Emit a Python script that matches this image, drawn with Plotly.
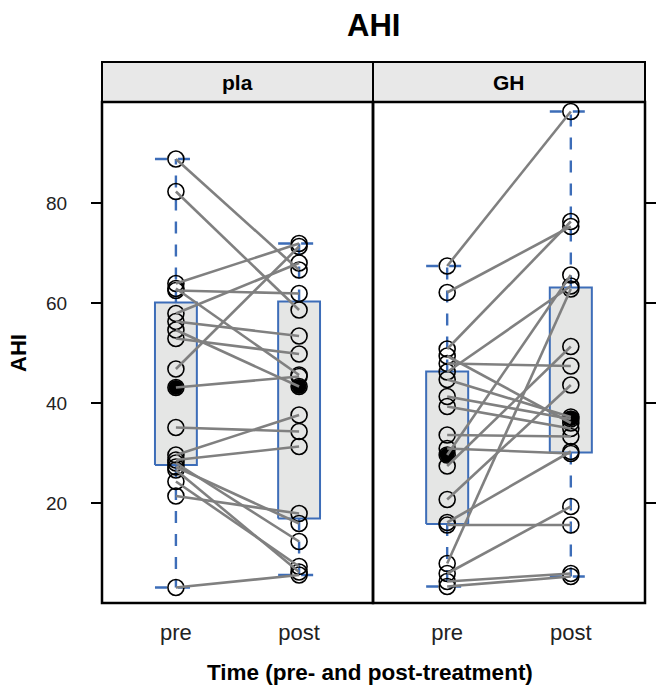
import plotly.graph_objects as go

# ---------------- data ----------------
panels = ["pla", "GH"]
time_labels = ["pre", "post"]

pla_pre = [88.8, 82.3, 63.9, 62.9, 62.5, 57.9, 56.3, 54.6, 52.9, 46.8,
           43.1, 35.1, 29.6, 28.6, 28.0, 27.2, 26.6, 24.3, 21.4, 3.1]
pla_post = [66.6, 58.6, 71.9, 45.6, 61.9, 68.0, 53.4, 43.3, 49.8, 71.3,
            45.3, 34.3, 37.6, 31.3, 12.3, 15.9, 6.2, 7.3, 17.9, 5.6]

gh_pre = [67.4, 62.1, 50.8, 49.4, 47.9, 46.2, 44.7, 41.3, 39.3, 33.6,
          30.9, 29.6, 27.4, 20.7, 16.1, 15.6, 7.9, 5.9, 4.3, 3.3]
gh_post = [98.3, 75.3, 76.3, 36.0, 47.4, 63.4, 37.2, 36.8, 34.9, 33.3,
           29.9, 65.6, 51.3, 43.6, 30.3, 15.6, 62.8, 19.3, 5.9, 5.3]

# box statistics: lower whisker, Q1, median, Q3, upper whisker
pla_pre_box = [3.1, 27.6, 43.1, 60.1, 88.8]
pla_post_box = [5.6, 16.9, 43.3, 60.3, 71.9]
gh_pre_box = [3.3, 15.8, 29.6, 46.3, 67.4]
gh_post_box = [5.3, 30.1, 36.9, 63.1, 98.3]

y_ticks = [20, 40, 60, 80]

# ---------------- styling ----------------
W, H = 657, 690
FONT = "Liberation Sans, Arial, sans-serif"
BLUE = "#3D6DB8"
BOXFILL = "#E5E6E5"
LINEGREY = "#808080"
STRIP = "#E8E8E8"

def px_x(p):
    return p / W

def px_y(p):
    return 1 - p / H

left_dom = [px_x(102), px_x(373)]
right_dom = [px_x(373), px_x(645)]
y_dom = [px_y(603), px_y(102)]

fig = go.Figure()

box_w = 0.17

def add_panel(xa, ya, pre, post, pre_box, post_box):
    for xpos, b in ((1, pre_box), (2, post_box)):
        lo, q1, med, q3, hi = b
        fig.add_trace(go.Scatter(
            x=[xpos - box_w, xpos + box_w, xpos + box_w, xpos - box_w, xpos - box_w],
            y=[q1, q1, q3, q3, q1], mode="lines", fill="toself",
            fillcolor=BOXFILL, line=dict(color=BLUE, width=2),
            xaxis=xa, yaxis=ya, hoverinfo="skip", showlegend=False))
        fig.add_trace(go.Scatter(
            x=[xpos, xpos, None, xpos, xpos, None,
               xpos - box_w, xpos + box_w, None, xpos - box_w, xpos + box_w],
            y=[q3, hi, None, q1, lo, None, hi, hi, None, lo, lo],
            mode="lines", line=dict(color=BLUE, width=2.4, dash="12px,11px"),
            xaxis=xa, yaxis=ya, hoverinfo="skip", showlegend=False))
        fig.add_trace(go.Scatter(
            x=[xpos], y=[med], mode="markers",
            marker=dict(color="black", size=15, symbol="circle"),
            xaxis=xa, yaxis=ya, hoverinfo="skip", showlegend=False))
    fig.add_trace(go.Scatter(
        x=[1] * len(pre) + [2] * len(post), y=list(pre) + list(post),
        mode="markers",
        marker=dict(symbol="circle-open", size=16, color="black",
                    line=dict(width=1.6, color="black")),
        xaxis=xa, yaxis=ya, hoverinfo="skip", showlegend=False))
    lx, ly = [], []
    for a, b in zip(pre, post):
        lx += [1, 2, None]
        ly += [a, b, None]
    fig.add_trace(go.Scatter(
        x=lx, y=ly, mode="lines", line=dict(color=LINEGREY, width=2.6),
        xaxis=xa, yaxis=ya, hoverinfo="skip", showlegend=False))

add_panel("x", "y", pla_pre, pla_post, pla_pre_box, pla_post_box)
add_panel("x2", "y2", gh_pre, gh_post, gh_pre_box, gh_post_box)

xcommon = dict(range=[0.4, 2.6], tickvals=[1, 2], ticktext=time_labels,
               showgrid=False, zeroline=False, showline=False,
               ticks="outside", ticklen=10, tickcolor="rgba(0,0,0,0)",
               tickfont=dict(family=FONT, size=22, color="#222"), fixedrange=True)
ycommon = dict(range=[0, 100.2], tickvals=y_ticks, showgrid=False,
               zeroline=False, showline=False, ticks="outside", ticklen=10,
               tickwidth=2, tickcolor="black",
               tickfont=dict(family=FONT, size=19, color="#222"))

fig.update_layout(
    width=W, height=H, margin=dict(l=0, r=0, t=0, b=0),
    paper_bgcolor="white", plot_bgcolor="white", showlegend=False,
    xaxis=dict(domain=left_dom, anchor="y", **xcommon),
    xaxis2=dict(domain=right_dom, anchor="y2", **xcommon),
    yaxis=dict(domain=y_dom, anchor="x", side="left", ticklabelstandoff=20,
               **ycommon),
    yaxis2=dict(domain=y_dom, anchor="x2", side="right", matches="y",
                showticklabels=False, **ycommon),
)

for x0, x1, lab in ((102, 373, panels[0]), (373, 645, panels[1])):
    fig.add_shape(type="rect", xref="paper", yref="paper",
                  x0=px_x(x0), x1=px_x(x1), y0=px_y(102), y1=px_y(62),
                  fillcolor=STRIP, line=dict(color="black", width=2), layer="below")
    fig.add_shape(type="rect", xref="paper", yref="paper",
                  x0=px_x(x0), x1=px_x(x1), y0=px_y(603), y1=px_y(102),
                  line=dict(color="black", width=2.5), layer="above")
    fig.add_annotation(x=px_x((x0 + x1) / 2), y=px_y(82), xref="paper", yref="paper",
                       xanchor="center", yanchor="middle",
                       text="<b>%s</b>" % lab, showarrow=False,
                       font=dict(family=FONT, size=21, color="black"))

fig.add_annotation(x=px_x(373.5), y=px_y(26), xref="paper", yref="paper",
                   xanchor="center", yanchor="middle",
                   text="<b>AHI</b>", showarrow=False,
                   font=dict(family=FONT, size=31, color="black"))
fig.add_annotation(x=px_x(370), y=px_y(672), xref="paper", yref="paper",
                   xanchor="center", yanchor="middle",
                   text="<b>Time (pre- and post-treatment)</b>", showarrow=False,
                   font=dict(family=FONT, size=22.5, color="black"))
fig.add_annotation(x=px_x(18), y=px_y(353), xref="paper", yref="paper",
                   xanchor="center", yanchor="middle",
                   text="<b>AHI</b>", showarrow=False, textangle=-90,
                   font=dict(family=FONT, size=22, color="black"))

fig.write_html("out.html",
               config={"displayModeBar": False},
               post_script="document.body.style.margin='0';"
                           "document.body.style.overflow='hidden';")
